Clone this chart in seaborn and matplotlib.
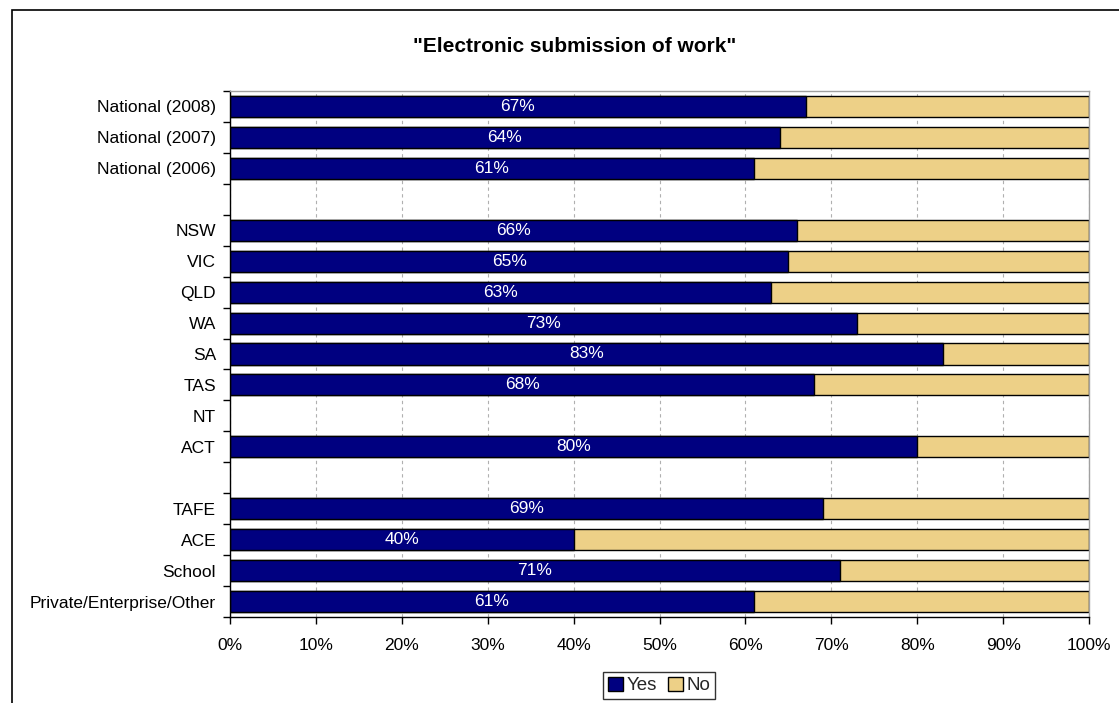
import matplotlib
matplotlib.use("Agg")
import matplotlib.pyplot as plt
import seaborn as sns
import pandas as pd
import numpy as np
from matplotlib.ticker import FuncFormatter, FixedLocator
from matplotlib.patches import Patch, Rectangle

categories = ["National (2008)", "National (2007)", "National (2006)", " ",
              "NSW", "VIC", "QLD", "WA", "SA", "TAS", "NT", "ACT", "  ",
              "TAFE", "ACE", "School", "Private/Enterprise/Other"]
yes_values = [67, 64, 61, np.nan, 66, 65, 63, 73, 83, 68, np.nan, 80, np.nan,
              69, 40, 71, 61]
no_values = [100 - v if not np.isnan(v) else np.nan for v in yes_values]
title = '"Electronic submission of work"'
series_names = ["Yes", "No"]
x_ticks = [0, 10, 20, 30, 40, 50, 60, 70, 80, 90, 100]

yes_color = "#000080"
no_color = "#EDD087"

sns.set_theme(style="white")
plt.rcParams["font.family"] = ["Liberation Sans", "DejaVu Sans"]

df = pd.DataFrame({"category": categories, "Yes": yes_values, "No": no_values})
df["Total"] = df["Yes"] + df["No"]

fig = plt.figure(figsize=(11.19, 7.03), dpi=100)
ax = fig.add_axes([230/1119, 1-617/703, (1089-230)/1119, (617-91)/703])

sns.barplot(data=df, y="category", x="Total", order=categories, color=no_color,
            orient="h", width=0.68, edgecolor="black", linewidth=1.0,
            saturation=1, ax=ax)
sns.barplot(data=df, y="category", x="Yes", order=categories, color=yes_color,
            orient="h", width=0.68, edgecolor="black", linewidth=1.0,
            saturation=1, ax=ax)

yes_container = ax.containers[-1]
labels = []
for p in yes_container:
    w = p.get_width()
    labels.append("" if (w is None or np.isnan(w) or w == 0) else f"{w:.0f}%")
ax.bar_label(yes_container, labels=labels, label_type="center", color="white",
             fontsize=12.5)

ax.set_xlim(0, 100)
ax.set_ylim(len(categories) - 0.5, -0.5)
ax.xaxis.set_major_locator(FixedLocator(x_ticks))
ax.xaxis.set_major_formatter(FuncFormatter(lambda v, p: f"{v:.0f}%"))
ax.set_xlabel("")
ax.set_ylabel("")
ax.set_yticks(range(len(categories)))
ax.set_yticklabels(categories)
ax.tick_params(axis="y", which="major", length=0, pad=10, labelsize=12.5, labelcolor="black")
ax.tick_params(axis="x", which="major", length=5, width=1, pad=10, labelsize=12.5,
               labelcolor="black", direction="out", color="black", bottom=True)
ax.yaxis.set_minor_locator(FixedLocator(np.arange(-0.5, len(categories), 1.0)))
ax.tick_params(axis="y", which="minor", length=5, width=1, color="black", left=True,
               direction="out")

ax.grid(axis="x", color="#B0B0B0", linestyle=(0, (3, 3)), linewidth=0.8)
ax.set_axisbelow(True)
for s in ["top", "right"]:
    ax.spines[s].set_color("#A0A0A0")
    ax.spines[s].set_linewidth(1.0)
for s in ["left", "bottom"]:
    ax.spines[s].set_color("black")
    ax.spines[s].set_linewidth(1.0)

fig.text(575/1119, 1-46/703, title, ha="center", va="center", fontsize=15,
         fontweight="bold", color="black")

handles = [Patch(facecolor=yes_color, edgecolor="black", linewidth=1.0),
           Patch(facecolor=no_color, edgecolor="black", linewidth=1.0)]
leg = fig.legend(handles, series_names, loc="upper center",
                 bbox_to_anchor=(659/1119, 1-672/703), ncol=2, frameon=True,
                 fontsize=13.5, handlelength=0.8, handleheight=0.8,
                 handletextpad=0.2, columnspacing=0.6, borderpad=0.25,
                 borderaxespad=0, fancybox=False)
leg.get_frame().set_edgecolor("black")
leg.get_frame().set_linewidth(1.0)

fig.patches.append(Rectangle((12/1119, -0.05), 1.2, 1-10/703 + 0.05,
                             transform=fig.transFigure, fill=False,
                             edgecolor="black", linewidth=1.2, zorder=0))

fig.savefig("out.png", dpi=100)
